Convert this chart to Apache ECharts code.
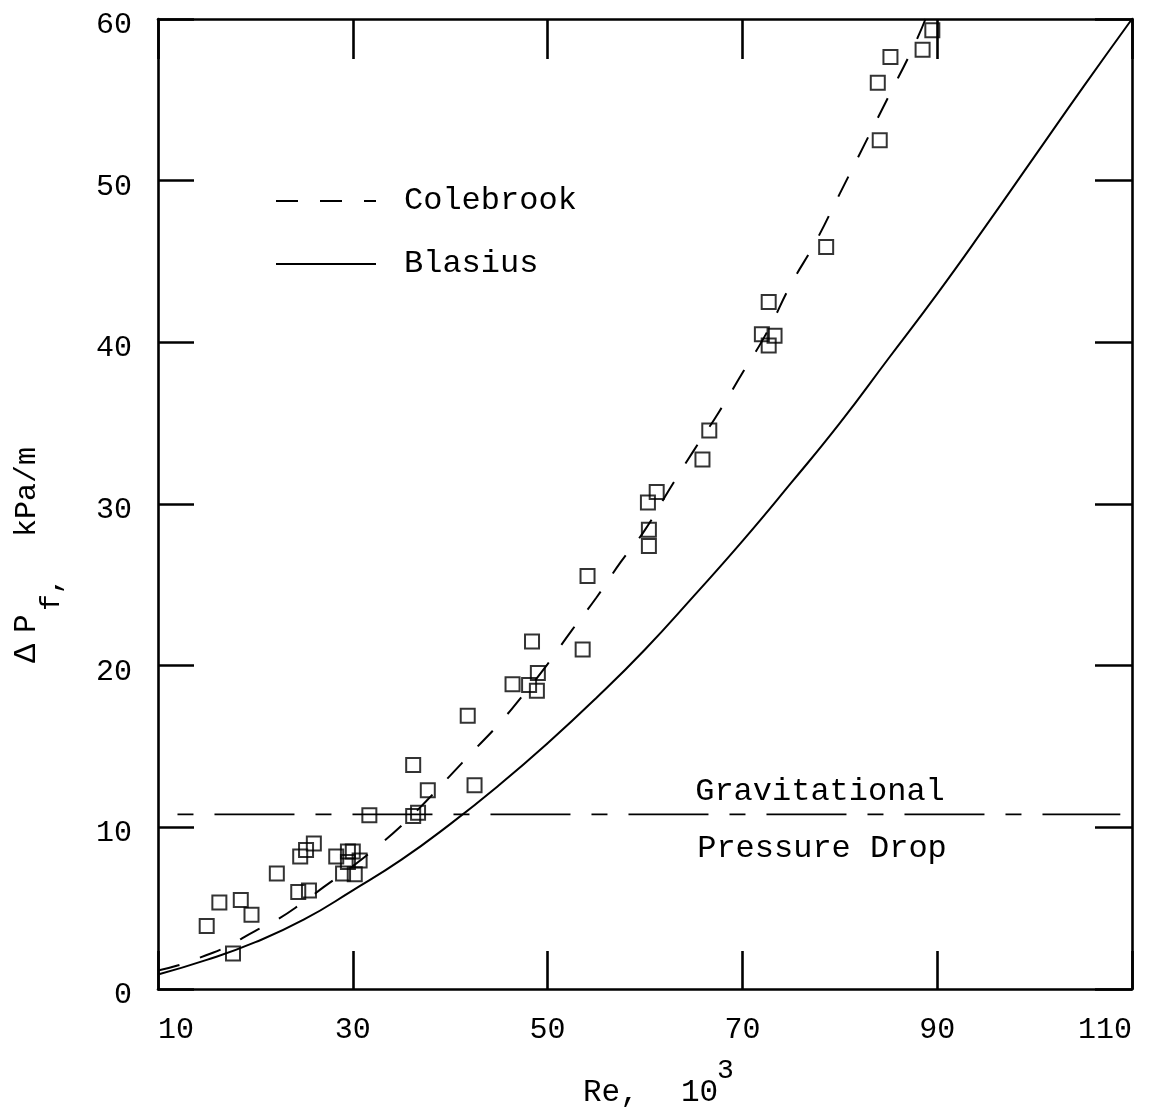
<!DOCTYPE html>
<html>
<head>
<meta charset="utf-8">
<script src="https://cdn.jsdelivr.net/npm/echarts@6/dist/echarts.min.js"></script>
<style>
  html, body { margin: 0; padding: 0; background: #ffffff; }
  #chart { width: 1149px; height: 1113px; }
</style>
</head>
<body>
<div id="chart"></div>
<script>
// Frictional pressure gradient vs Reynolds number (Re in thousands, ΔPf in kPa/m)

// Blasius correlation curve
const blasiusRe = [10, 15, 20, 25, 30, 35, 40, 45, 50, 55, 60, 65, 70, 75, 80, 85, 90, 95, 100, 105, 110];
const blasiusDp = [0.9, 1.8, 2.9, 4.3, 6.1, 8.0, 10.2, 12.6, 15.2, 18.0, 21.0, 24.3, 27.7, 31.3, 35.0, 39.0, 43.0, 47.2, 51.5, 55.8, 60.0];

// Colebrook correlation curve
const colebrookRe = [10, 12, 15, 17, 20, 22, 25, 27, 30, 32.5, 35, 37.5, 40, 42.5, 45, 47.5, 50, 52.5, 55, 57.5, 60, 62.5, 65, 67.5, 70, 72.5, 75, 77.5, 80, 82.5, 85, 87.5, 88.8];
const colebrookDp = [1.15, 1.45, 2.1, 2.6, 3.6, 4.2, 5.4, 6.3, 7.6, 8.8, 10.1, 11.6, 13.2, 14.8, 16.4, 18.2, 20.1, 22.2, 24.2, 26.4, 28.4, 30.9, 33.3, 35.6, 38.1, 40.6, 43.6, 46.2, 49.2, 52.2, 55.2, 58.2, 60.0];

// Measured points
const measuredRe = [15.0, 16.3, 18.5, 19.6, 17.7, 22.2, 24.4, 25.5, 24.6, 25.2, 26.0, 28.3, 29.5, 30.0, 29.5, 30.7, 29.0, 30.2,
                    31.7, 36.2, 36.7, 36.2, 37.7, 42.5, 41.8, 46.4, 48.1, 48.9, 49.0, 48.4, 53.6, 54.1, 60.4, 60.4, 60.3, 61.2,
                    65.9, 66.6, 72.0, 73.3, 72.7, 72.7, 78.6, 84.1, 83.9, 85.2, 88.5, 89.5];
const measuredDp = [3.9, 5.35, 5.5, 4.6, 2.2, 7.15, 6.0, 6.1, 8.2, 8.6, 9.0, 8.2, 8.5, 8.5, 7.85, 7.95, 7.15, 7.1,
                    10.75, 10.7, 10.9, 13.85, 12.3, 12.6, 16.9, 18.85, 18.8, 18.45, 19.55, 21.5, 21.0, 25.55, 27.4, 28.4, 30.1, 30.75,
                    32.75, 34.55, 40.5, 40.4, 39.8, 42.5, 45.9, 52.5, 56.05, 57.65, 58.1, 59.3];

// Gravitational pressure drop level
const gravityRe = [12.0, 108.8];
const gravityDp = [10.8, 10.8];

// Axis ranges and tick steps
const reRange = [10, 110];
const reStep = 20;
const dpRange = [0, 60];
const dpStep = 10;

const zip = (xs, ys) => xs.map((x, i) => [x, ys[i]]);

const FONT = '"Liberation Mono", "DejaVu Sans Mono", monospace';
const INK = '#000000';

function xAxisDef(position, tickLen, showLabel) {
  return {
    type: 'value', position: position,
    min: reRange[0], max: reRange[1], interval: reStep,
    axisLine: { onZero: false, lineStyle: { color: INK, width: 2.6 } },
    axisTick: { inside: true, length: tickLen, lineStyle: { color: INK, width: 2.6 } },
    axisLabel: {
      show: showLabel, fontFamily: FONT, fontSize: 30, color: INK, margin: 26,
      alignMinLabel: 'left', alignMaxLabel: 'right'
    },
    splitLine: { show: false }
  };
}

function yAxisDef(position, tickLen, showLabel) {
  return {
    type: 'value', position: position,
    min: dpRange[0], max: dpRange[1], interval: dpStep,
    axisLine: { onZero: false, lineStyle: { color: INK, width: 2.6 } },
    axisTick: { inside: true, length: tickLen, lineStyle: { color: INK, width: 2.6 } },
    axisLabel: {
      show: showLabel, margin: 26,
      formatter: '{v|{value}}',
      rich: { v: { fontFamily: FONT, fontSize: 30, color: INK, padding: [12, 0, 0, 0] } }
    },
    splitLine: { show: false }
  };
}

const chart = echarts.init(document.getElementById('chart'), null, { renderer: 'canvas' });

chart.setOption({
  animation: false,
  backgroundColor: '#ffffff',
  grid: { left: 158, right: 17, top: 19, bottom: 124, containLabel: false },
  xAxis: [xAxisDef('bottom', 38, true), xAxisDef('top', 40, false)],
  yAxis: [yAxisDef('left', 36, true), yAxisDef('right', 37, false)],
  legend: {
    data: ['Colebrook', 'Blasius'],
    orient: 'vertical',
    left: 275, top: 183, padding: 0,
    itemWidth: 100, itemHeight: 14, itemGap: 27,
    selectedMode: false,
    itemStyle: { color: 'rgba(0,0,0,0)', borderWidth: 0, opacity: 0 },
    textStyle: { fontFamily: FONT, fontSize: 32, color: INK, lineHeight: 36, padding: [0, 0, 0, 23] }
  },
  series: [
    {
      name: 'Gravitational Pressure Drop', type: 'line',
      data: zip(gravityRe, gravityDp),
      symbol: 'none', silent: true,
      lineStyle: { color: INK, width: 1.6, type: [80, 21, 16, 21], dashOffset: 101 }
    },
    {
      name: 'Blasius', type: 'line',
      data: zip(blasiusRe, blasiusDp),
      smooth: true, symbol: 'none', silent: true,
      lineStyle: { color: INK, width: 2 },
      itemStyle: { color: INK }
    },
    {
      name: 'Colebrook', type: 'line',
      data: zip(colebrookRe, colebrookDp),
      smooth: true, symbol: 'none', silent: true,
      lineStyle: { color: INK, width: 2, type: [22, 22] },
      itemStyle: { color: INK }
    },
    {
      name: 'Measured', type: 'scatter',
      data: zip(measuredRe, measuredDp),
      symbol: 'rect', symbolSize: 14, silent: true,
      itemStyle: { color: 'rgba(0,0,0,0)', borderColor: INK, borderWidth: 2 }
    }
  ],
  graphic: [
    // annotation of the horizontal level
    { type: 'text', x: 820, y: 792, silent: true,
      style: { text: 'Gravitational', font: '32px ' + FONT, fill: INK, align: 'center', verticalAlign: 'middle' } },
    { type: 'text', x: 822, y: 849, silent: true,
      style: { text: 'Pressure Drop', font: '32px ' + FONT, fill: INK, align: 'center', verticalAlign: 'middle' } },
    // x axis title: Re, 10^3
    { type: 'group', x: 583, y: 1093, silent: true, children: [
      { type: 'text', x: 0, y: 0, style: { text: 'Re,', font: '31px ' + FONT, fill: INK, align: 'left', verticalAlign: 'middle' } },
      { type: 'text', x: 98, y: 0, style: { text: '10', font: '31px ' + FONT, fill: INK, align: 'left', verticalAlign: 'middle' } },
      { type: 'text', x: 134, y: -22, style: { text: '3', font: '28px ' + FONT, fill: INK, align: 'left', verticalAlign: 'middle' } }
    ] },
    // y axis title: ΔPf, kPa/m (reads bottom to top)
    { type: 'group', x: 27, y: 663, rotation: Math.PI / 2, silent: true, children: [
      { type: 'text', x: 0, y: 0, style: { text: 'Δ', font: '32px ' + FONT, fill: INK, align: 'left', verticalAlign: 'middle' } },
      { type: 'text', x: 30, y: 0, style: { text: 'P', font: '31px ' + FONT, fill: INK, align: 'left', verticalAlign: 'middle' } },
      { type: 'text', x: 52, y: 25, style: { text: 'f,', font: '28px ' + FONT, fill: INK, align: 'left', verticalAlign: 'middle' } },
      { type: 'text', x: 126, y: 0, style: { text: 'kPa/m', font: '30px ' + FONT, fill: INK, align: 'left', verticalAlign: 'middle' } }
    ] }
  ]
});
</script>
</body>
</html>
